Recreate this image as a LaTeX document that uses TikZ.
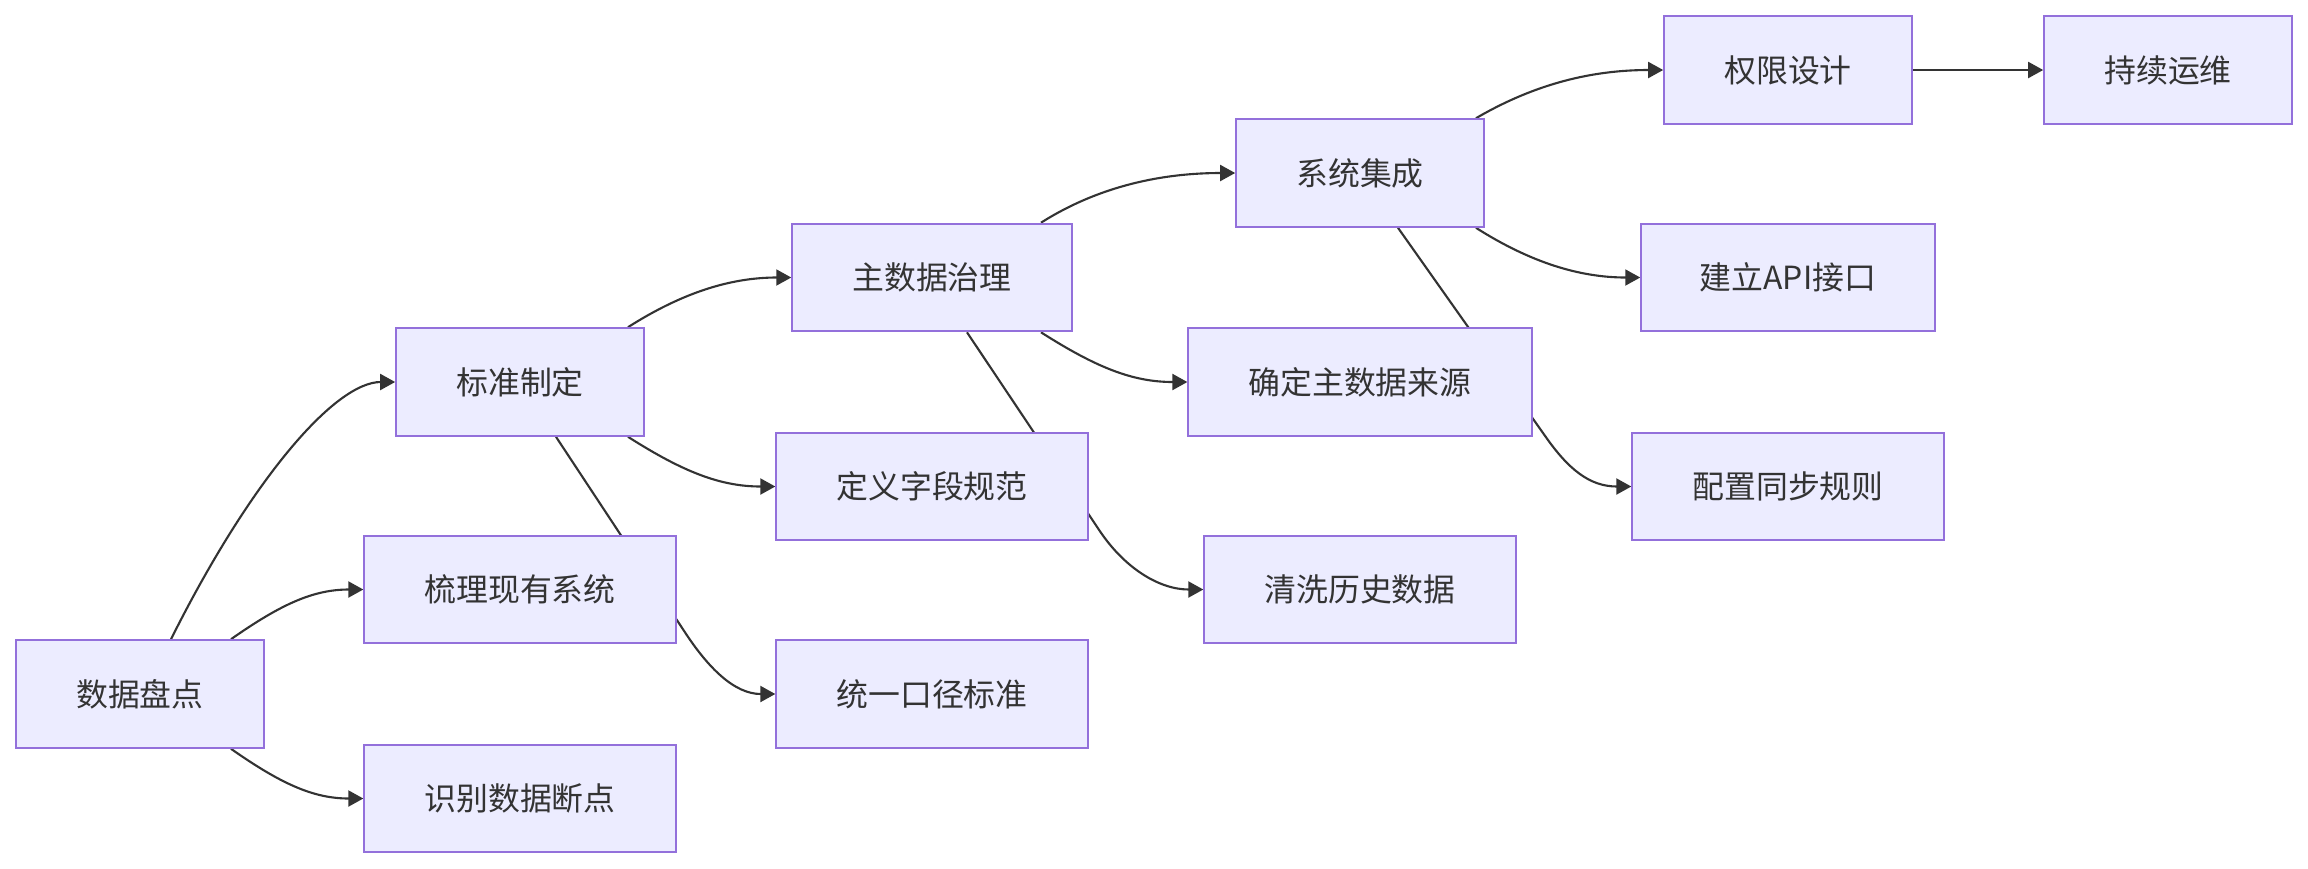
\documentclass[tikz,border=0pt]{standalone}
\usepackage{fontspec}
\newfontfamily\cjk{Noto Sans CJK SC}
\usepackage{xcolor}
\usepackage{tikz}
\usetikzlibrary{arrows.meta,positioning,calc,backgrounds}

\definecolor{nodefill}{HTML}{ECECFF}
\definecolor{nodeline}{HTML}{9370DB}
\definecolor{edgeline}{HTML}{333333}

\begin{document}
\begin{tikzpicture}[
    on grid,
    block/.style={rectangle, draw=nodeline, fill=nodefill, line width=0.6pt, align=center, text=edgeline, inner xsep=0.6cm, minimum height=1.075cm, font=\cjk\fontsize{9.07}{11}\selectfont},
    arrow/.style={-{Triangle[length=0.15cm, width=0.16cm]}, line width=0.6pt, draw=edgeline}
]
    \useasboundingbox (0,0) rectangle (23.08,-8.68);

    % Nodes (column by column)
    \node (pandian) [block] at (1.40,-6.94) {数据盘点};

    \node (biaozhun) [block, above right=3.12cm and 3.8cm of pandian] {标准制定};
    \node (shuli) [block, above right=1.045cm and 3.8cm of pandian] {梳理现有系统};
    \node (shibie) [block, below right=1.045cm and 3.8cm of pandian] {识别数据断点};

    \node (zhushuju) [block, above right=1.045cm and 4.12cm of biaozhun] {主数据治理};
    \node (dingyi) [block, below right=1.045cm and 4.12cm of biaozhun] {定义字段规范};
    \node (tongyi) [block, below right=3.12cm and 4.12cm of biaozhun] {统一口径标准};

    \node (jicheng) [block, above right=1.045cm and 4.28cm of zhushuju] {系统集成};
    \node (laiyuan) [block, below right=1.045cm and 4.28cm of zhushuju] {确定主数据来源};
    \node (qingxi) [block, below right=3.12cm and 4.28cm of zhushuju] {清洗历史数据};

    \node (quanxian) [block, above right=1.03cm and 4.28cm of jicheng] {权限设计};
    \node (api) [block, inner xsep=0.585cm, below right=1.045cm and 4.28cm of jicheng] {建立API接口};
    \node (peizhi) [block, below right=3.135cm and 4.28cm of jicheng] {配置同步规则};

    \node (yunwei) [block, right=3.8cm of quanxian] {持续运维};

    % Arrows (behind the boxes)
    \begin{scope}[on background layer]
    \draw [arrow] ($(pandian.north)+(0.31,0)$) .. controls +(0.8,1.6) and +(-0.6,0) .. (biaozhun.west);
    \draw [arrow] ($(pandian.north)+(0.91,0)$) .. controls +(0.5,0.35) and +(-0.5,0) .. (shuli.west);
    \draw [arrow] ($(pandian.south)+(0.91,0)$) .. controls +(0.5,-0.35) and +(-0.5,0) .. (shibie.west);

    \draw [arrow] ($(biaozhun.south)+(0.36,0)$) -- ++(1.28,-1.94) .. controls +(0.24,-0.37) and +(-0.41,0) .. (tongyi.west);
    \draw [arrow] ($(biaozhun.north)+(1.08,0)$) .. controls +(0.55,0.35) and +(-0.6,0) .. (zhushuju.west);
    \draw [arrow] ($(biaozhun.south)+(1.08,0)$) .. controls +(0.55,-0.35) and +(-0.55,0) .. (dingyi.west);

    \draw [arrow] ($(zhushuju.north)+(1.09,0)$) .. controls +(0.6,0.38) and +(-0.7,0) .. (jicheng.west);
    \draw [arrow] ($(zhushuju.south)+(1.09,0)$) .. controls +(0.55,-0.35) and +(-0.55,0) .. (laiyuan.west);
    \draw [arrow] ($(zhushuju.south)+(0.35,0)$) -- ++(1.33,-1.99) .. controls +(0.25,-0.37) and +(-0.44,0) .. (qingxi.west);

    \draw [arrow] ($(jicheng.north)+(1.16,0)$) .. controls +(0.6,0.35) and +(-0.7,0) .. (quanxian.west);
    \draw [arrow] ($(jicheng.south)+(1.16,0)$) .. controls +(0.55,-0.35) and +(-0.6,0) .. (api.west);
    \draw [arrow] ($(jicheng.south)+(0.38,0)$) -- ++(1.47,-2.08) .. controls +(0.23,-0.33) and +(-0.42,0) .. (peizhi.west);

    \draw [arrow] (quanxian) -- (yunwei);
    \end{scope}
\end{tikzpicture}
\end{document}
